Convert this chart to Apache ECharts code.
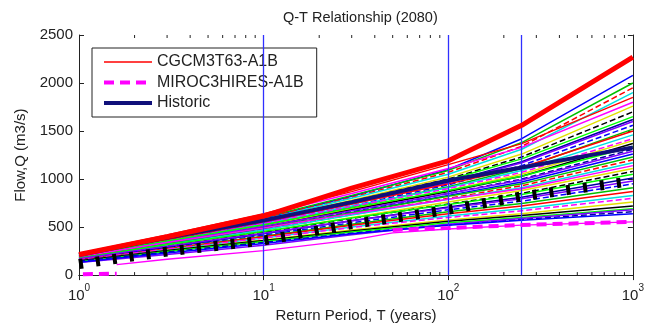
<!DOCTYPE html>
<html><head><meta charset="utf-8">
<script src="https://cdn.jsdelivr.net/npm/echarts@6/dist/echarts.min.js"></script>
<style>html,body{margin:0;padding:0;background:#fff}#c{width:647px;height:328px}</style>
</head><body><div id="c"></div>
<script>
// Return periods (years) at which each run is read
const returnPeriods = [1, 3, 10, 30, 100, 250, 1000];

// Ensemble runs, flow Q (m3/s) at the return periods above
const upperRuns = [
  [200, 380, 590, 820, 1100, 1420, 2080],
  [215, 395, 600, 830, 1090, 1380, 2000],
  [205, 385, 590, 810, 1070, 1340, 1950],
  [210, 380, 580, 800, 1050, 1310, 1900],
  [220, 410, 625, 850, 1110, 1330, 1800],
  [195, 370, 570, 780, 1020, 1260, 1760],
  [200, 370, 565, 770, 1000, 1230, 1700],
  [210, 375, 570, 770, 990, 1210, 1650],
  [200, 360, 550, 750, 970, 1180, 1620],
  [190, 355, 545, 740, 960, 1170, 1600],
  [185, 345, 530, 720, 940, 1140, 1560],
  [180, 340, 520, 710, 920, 1110, 1520],
  [205, 370, 555, 740, 950, 1120, 1500]
];
const middleRuns = [
  [190, 350, 530, 720, 910, 1090, 1460],
  [195, 355, 535, 715, 900, 1070, 1420],
  [180, 335, 505, 690, 880, 1050, 1400],
  [175, 330, 500, 680, 870, 1030, 1370],
  [200, 355, 525, 700, 880, 1030, 1340],
  [170, 320, 490, 660, 850, 1000, 1310],
  [185, 340, 505, 670, 850, 990, 1290],
  [175, 325, 485, 650, 830, 970, 1260],
  [180, 330, 490, 650, 820, 950, 1230],
  [165, 310, 470, 630, 800, 930, 1200],
  [170, 315, 470, 625, 790, 910, 1170],
  [190, 340, 490, 640, 790, 900, 1140],
  [160, 300, 450, 600, 760, 880, 1110],
  [165, 300, 445, 590, 740, 850, 1080]
];
const lowerRuns = [
  [175, 315, 455, 595, 735, 840, 1050],
  [160, 290, 430, 565, 710, 810, 1010],
  [170, 300, 435, 565, 700, 795, 980],
  [155, 280, 415, 545, 680, 770, 950],
  [150, 275, 405, 530, 660, 745, 910],
  [155, 275, 400, 520, 640, 720, 870],
  [150, 265, 385, 500, 615, 690, 830],
  [160, 270, 385, 495, 600, 670, 800],
  [145, 255, 365, 470, 575, 640, 760],
  [150, 255, 360, 460, 560, 620, 720],
  [140, 245, 350, 450, 545, 600, 690],
  [145, 240, 340, 435, 525, 580, 660],
  [130, 215, 310, 420, 530, 590, 680],
  [135, 230, 330, 430, 520, 570, 640]
];
const cgcmRun = [225, 420, 640, 870, 1150, 1370, 1850];
const thickRedRun = [215, 400, 615, 905, 1190, 1560, 2270];
const historicRun = [210, 390, 570, 760, 985, 1120, 1330];
const blackDashedRun = [115, 245, 360, 530, 680, 820, 980];
const pinkThinT = [1.6, 3, 10, 30, 50, 100, 250, 1000];
const pinkThinQ = [110, 165, 255, 365, 440, 480, 520, 555];
const mirocT = [1.05, 1.6, 2, 50, 100, 250, 1000];
const mirocQ = [10, 15, '-', 470, 490, 522, 555];
const markedPeriods = [10, 100, 250];
const minorTickPeriods = [2,3,4,5,6,7,8,9,20,30,40,50,60,70,80,90,200,300,400,500,600,700,800,900];

const palette = ['#0000ff','#00c000','#ff0000','#00e0e0','#ff00ff','#e0e000','#000000','#00ff00','#0000a0','#8000ff'];
const FONT = 'Liberation Sans, Arial, sans-serif';
const TXT = '#222';

const pair = (ts, qs) => ts.map((t, i) => [t, qs[i]]);

const series = [];
const allRuns = upperRuns.concat(middleRuns, lowerRuns);
allRuns.forEach((run, i) => {
  series.push({
    type: 'line', silent: true, symbol: 'none',
    data: pair(returnPeriods, run),
    lineStyle: { color: palette[i % palette.length], width: 1.5, type: (i % 4 === 2) ? [6, 3] : 'solid' },
    z: 2
  });
});
series.push({
  name: 'CGCM3T63-A1B', type: 'line', symbol: 'none', silent: true,
  data: pair(returnPeriods, cgcmRun),
  itemStyle: { color: '#ff0000' },
  lineStyle: { color: '#ff0000', width: 1.3 }, z: 3
});
series.push({
  type: 'line', symbol: 'none', silent: true,
  data: pair(pinkThinT, pinkThinQ),
  lineStyle: { color: '#ff00ff', width: 1.3 }, z: 3
});
series.push({
  type: 'line', symbol: 'none', silent: true,
  data: pair(returnPeriods, blackDashedRun),
  lineStyle: { color: '#000', width: 10, type: [4, 13], cap: 'butt' }, z: 4
});
series.push({
  name: 'Historic', type: 'line', symbol: 'none', silent: true,
  data: pair(returnPeriods, historicRun),
  itemStyle: { color: '#10107a' },
  lineStyle: { color: '#10107a', width: 4 }, z: 5
});
series.push({
  name: 'MIROC3HIRES-A1B', type: 'line', symbol: 'none', silent: true,
  data: pair(mirocT, mirocQ), connectNulls: false,
  itemStyle: { color: '#ff00ff' },
  lineStyle: { color: '#ff00ff', width: 4, type: [10, 6], cap: 'butt' }, z: 5
});
series.push({
  type: 'line', symbol: 'none', silent: true,
  data: pair(returnPeriods, thickRedRun),
  lineStyle: { color: '#ff0000', width: 5 }, z: 6,
  markLine: {
    silent: true, symbol: 'none', label: { show: false },
    lineStyle: { color: '#3030ff', width: 1.3, type: 'solid' },
    data: markedPeriods.map(v => ({ xAxis: v }))
  }
});
series.push({
  type: 'custom', silent: true, z: 10,
  data: minorTickPeriods.map(v => [v, 0]),
  renderItem(params, api) {
    const x = api.coord([api.value(0), 0])[0];
    const cs = params.coordSys;
    const yb = cs.y + cs.height, yt = cs.y;
    return { type: 'group', children: [
      { type: 'line', shape: { x1: x, y1: yb, x2: x, y2: yb - 3 }, style: { stroke: TXT, lineWidth: 1 } },
      { type: 'line', shape: { x1: x, y1: yt, x2: x, y2: yt + 3 }, style: { stroke: TXT, lineWidth: 1 } }
    ]};
  }
});

const axisLine = { show: true, lineStyle: { color: TXT, width: 1 } };
const chart = echarts.init(document.getElementById('c'), null, { renderer: 'canvas' });
chart.setOption({
  animation: false,
  backgroundColor: '#fff',
  title: {
    text: 'Q-T Relationship (2080)', left: 283, top: 10, padding: 0,
    textStyle: { fontFamily: FONT, fontSize: 14.5, fontWeight: 'normal', color: TXT }
  },
  legend: {
    data: [
      { name: 'CGCM3T63-A1B', itemStyle: { opacity: 0 }, lineStyle: { width: 1.3, color: '#ff0000' } },
      { name: 'MIROC3HIRES-A1B', itemStyle: { opacity: 0 }, lineStyle: { width: 4, color: '#ff00ff', type: [10, 6] } },
      { name: 'Historic', itemStyle: { opacity: 0 }, lineStyle: { width: 4, color: '#10107a' } }
    ],
    orient: 'vertical', left: 92, top: 48,
    padding: [6, 13, 6, 10], itemGap: 4.5, itemWidth: 48, itemHeight: 14,
    backgroundColor: '#fff', borderColor: TXT, borderWidth: 1, borderRadius: 0,
    textStyle: { fontFamily: FONT, fontSize: 16, color: TXT }
  },
  grid: { left: 79, right: 6, top: 35, bottom: 49, containLabel: false },
  xAxis: [{
    type: 'log', logBase: 10, min: 1, max: 1000, position: 'bottom',
    name: 'Return Period, T (years)', nameLocation: 'middle', nameGap: 31,
    nameTextStyle: { fontFamily: FONT, fontSize: 15, color: TXT },
    axisLine, splitLine: { show: false },
    axisTick: { show: true, inside: true, length: 5, lineStyle: { color: TXT } },
    axisLabel: {
      color: TXT, margin: 8,
      formatter: v => '{b|10}{s|' + Math.round(Math.log10(v)) + '}',
      rich: {
        b: { fontFamily: FONT, fontSize: 15, color: TXT, verticalAlign: 'bottom', lineHeight: 20 },
        s: { fontFamily: FONT, fontSize: 10, color: TXT, verticalAlign: 'top', lineHeight: 20, padding: [0, 0, 10, 0] }
      }
    }
  }, {
    type: 'log', logBase: 10, min: 1, max: 1000, position: 'top',
    axisLine, splitLine: { show: false }, axisLabel: { show: false },
    axisTick: { show: true, inside: true, length: 5, lineStyle: { color: TXT } }
  }],
  yAxis: [{
    type: 'value', min: 0, max: 2500, interval: 500, position: 'left',
    name: 'Flow,Q (m3/s)', nameLocation: 'middle', nameGap: 48,
    nameTextStyle: { fontFamily: FONT, fontSize: 15, color: TXT },
    axisLine, splitLine: { show: false },
    axisTick: { show: true, inside: true, length: 5, lineStyle: { color: TXT } },
    axisLabel: { fontFamily: FONT, fontSize: 15, color: TXT, margin: 6, formatter: v => String(v) }
  }, {
    type: 'value', min: 0, max: 2500, interval: 500, position: 'right',
    axisLine, splitLine: { show: false }, axisLabel: { show: false },
    axisTick: { show: true, inside: true, length: 5, lineStyle: { color: TXT } }
  }],
  series
});
</script></body></html>
